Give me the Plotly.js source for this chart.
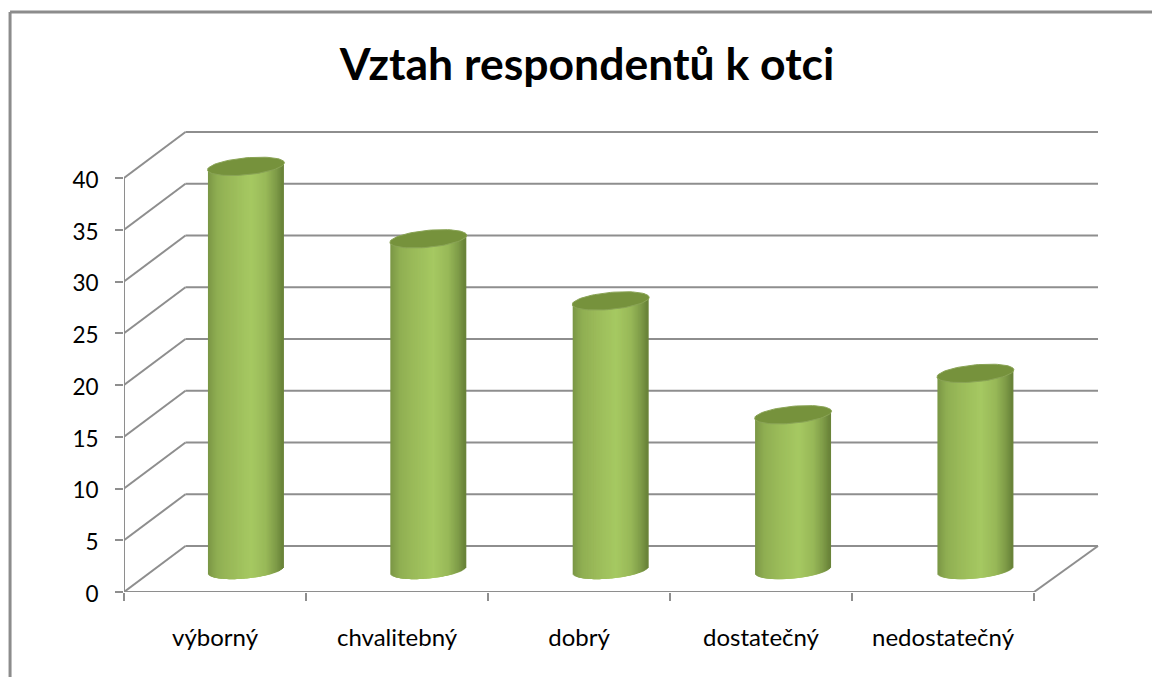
<!DOCTYPE html>
<html>
<head>
<meta charset="utf-8">
<script src="https://cdn.plot.ly/plotly-3.0.1.min.js"></script>
<style>html,body{margin:0;padding:0;background:#fff}#chart{width:1152px;height:677px}</style>
</head>
<body>
<div id="chart"></div>
<script>
// ---- data ----
const categories = ['výborný', 'chvalitebný', 'dobrý', 'dostatečný', 'nedostatečný'];
const values = [39, 32, 26, 15, 19];
const yTicks = [0, 5, 10, 15, 20, 25, 30, 35, 40];
const titleText = 'Vztah respondentů k otci';

// ---- geometry of the drawing, in pixels ----
const W = 1152, H = 677;
const L = 123.5, R = 1102, T = 120, B = 592;
const pxX = 182.1;           // pixels per category
const pxY = 10.35;           // pixels per value unit
const depthX = 61.5 / pxX, depthY = 46 / pxY;   // oblique depth of the walls
const backRight = (1098 - L) / pxX;
const xMax = (R - L) / pxX, yMax = (B - T) / pxY;

const gridColor = '#8e8e8e';
const fontFam = 'Lato, "Open Sans", sans-serif';

// Oblique cylinder proportions
const centerStart = 0.67, centerPitch = 1.002;
const base = (B - 570) / pxY;
const halfW = 38.5 / pxX;
const ellB = 8.5 / pxY;
const shear = 3.5 / pxY;

// Shading across a cylinder
const stops = [
  [0, [122, 150, 69]], [0.12, [143, 174, 82]], [0.3, [154, 186, 89]],
  [0.58, [166, 201, 98]], [0.78, [152, 184, 88]], [0.92, [125, 154, 71]], [1, [104, 130, 56]]
];
function shade(t) {
  for (let i = 1; i < stops.length; i++) {
    if (t <= stops[i][0]) {
      const a = stops[i - 1], b = stops[i], f = (t - a[0]) / (b[0] - a[0]);
      const c = a[1].map((v, k) => Math.round(v + (b[1][k] - v) * f));
      return 'rgb(' + c.join(',') + ')';
    }
  }
  return 'rgb(104,130,56)';
}

// One trace of thin overlapping strips per cylinder, and the elliptical top face
const traces = [];
const strips = 77;
const stripW = 2.4 / pxX;
categories.forEach((name, i) => {
  const cx = centerStart + i * centerPitch;
  const xs = [], bases = [], hs = [], cols = [];
  for (let s = 0; s < strips; s++) {
    const t = (s + 0.5) / strips, u = 2 * t - 1;
    const slope = shear * u;
    const bottom = base - ellB * Math.sqrt(1 - u * u) + slope;
    const top = base + values[i] + slope;
    xs.push(cx + u * (halfW - stripW / 2));
    bases.push(bottom);
    hs.push(top - bottom);
    cols.push(shade(t));
  }
  traces.push({
    type: 'bar', x: xs, y: hs, base: bases, width: stripW,
    marker: {color: cols, opacity: 1, line: {width: 0}}, showlegend: false, hoverinfo: 'skip', name: name
  });
});
categories.forEach((name, i) => {
  const cx = centerStart + i * centerPitch;
  const ex = [], ey = [];
  for (let a = 0; a <= 72; a++) {
    const th = a / 72 * 2 * Math.PI, c = Math.cos(th), sn = Math.sin(th);
    ex.push(cx + c * halfW);
    ey.push(base + values[i] + shear * c + ellB * sn);
  }
  traces.push({
    type: 'scatter', mode: 'lines', x: ex, y: ey, fill: 'toself', fillcolor: '#76923c',
    line: {color: '#8aa456', width: 1}, showlegend: false, hoverinfo: 'skip', name: name
  });
});
// Invisible trace that carries the overlay axis used for the category boundary ticks
traces.push({type: 'scatter', mode: 'none', x: [0], y: [0], xaxis: 'x2', yaxis: 'y', showlegend: false, hoverinfo: 'skip'});

// Walls and floor behind the cylinders
const line = (x0, y0, x1, y1, color) => ({
  type: 'line', xref: 'x', yref: 'y', x0, y0, x1, y1, layer: 'below',
  line: {color: color || gridColor, width: 2}
});
const shapes = [];
yTicks.forEach(v => {
  shapes.push(line(0, v, depthX, v + depthY));
  shapes.push(line(depthX, v + depthY, backRight, v + depthY));
});
shapes.push(line(0, 0, 0, yTicks[yTicks.length - 1]));
shapes.push(line(0, 0, 5, 0));
shapes.push(line(5, 0, backRight, depthY));

// Outer frame: only its top and left edges are in the picture
const plotW = R - L, plotH = B - T;
const pxToPaperX = x => (x - L) / plotW, pxToPaperY = y => (B - y) / plotH;
[[9.5, 678, 9.5, 12], [9.5, 12, 1153, 12]].forEach(p => shapes.push({
  type: 'line', xref: 'paper', yref: 'paper',
  x0: pxToPaperX(p[0]), y0: pxToPaperY(p[1]), x1: pxToPaperX(p[2]), y1: pxToPaperY(p[3]),
  line: {color: '#8c8c8c', width: 3}
}));

const layout = {
  width: W, height: H, paper_bgcolor: '#fff', plot_bgcolor: 'rgba(0,0,0,0)',
  margin: {l: L, r: W - R, t: T, b: H - B, pad: 0},
  barmode: 'overlay', showlegend: false, shapes,
  title: {
    text: '<b>' + titleText + '</b>', x: 587 / W, xanchor: 'center', y: 1 - 64 / H, yanchor: 'middle',
    font: {family: fontFam, size: 44.5, color: '#000'}
  },
  xaxis: {
    range: [0, xMax], showgrid: false, zeroline: false, showline: false, ticks: '',
    tickmode: 'array', tickvals: categories.map((_, i) => i + 0.5), ticktext: categories,
    tickfont: {family: fontFam, size: 24, color: '#000'}, ticklabelstandoff: 29, fixedrange: true
  },
  xaxis2: {
    overlaying: 'x', anchor: 'y', side: 'bottom', range: [0, xMax], showgrid: false, zeroline: false,
    showline: false, ticks: 'outside', ticklen: 8, tickwidth: 2, tickcolor: gridColor,
    tickmode: 'array', tickvals: categories.map((_, i) => i).concat(categories.length),
    ticktext: categories.map(() => '').concat(''), fixedrange: true
  },
  yaxis: {
    range: [0, yMax], showgrid: false, zeroline: false, showline: false, ticks: 'outside',
    ticklen: 8, tickwidth: 2, tickcolor: gridColor,
    tickmode: 'array', tickvals: yTicks, ticktext: yTicks.map(String),
    tickfont: {family: fontFam, size: 22.5, color: '#000'}, ticklabelstandoff: 12, ticklabelshift: 2, fixedrange: true
  }
};
Plotly.newPlot('chart', traces, layout, {displayModeBar: false, staticPlot: true});
</script>
</body>
</html>
